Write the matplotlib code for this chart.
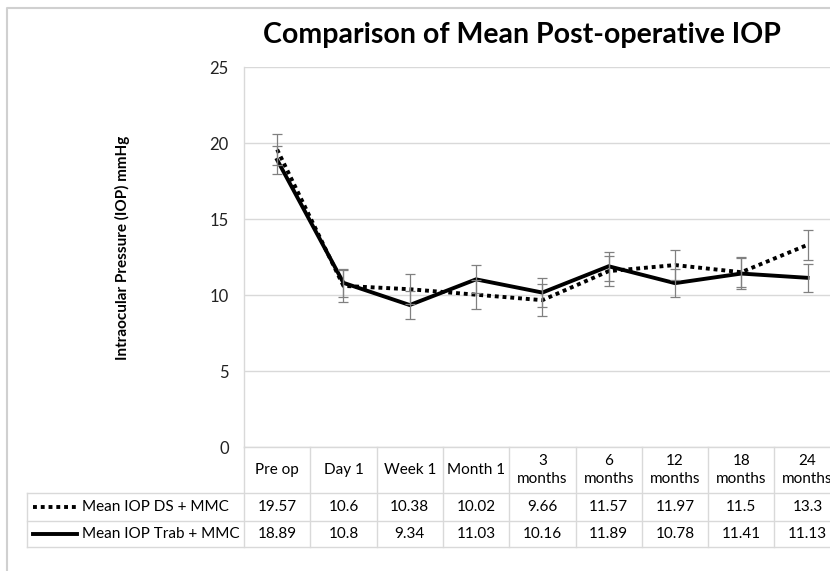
import matplotlib.pyplot as plt
from matplotlib import transforms
from matplotlib.lines import Line2D

plt.rcParams['font.family'] = ['Lato', 'DejaVu Sans']

categories = ['Pre op', 'Day 1', 'Week 1', 'Month 1', '3\nmonths', '6\nmonths',
              '12\nmonths', '18\nmonths', '24\nmonths']
ds_mmc = [19.57, 10.6, 10.38, 10.02, 9.66, 11.57, 11.97, 11.5, 13.3]
trab_mmc = [18.89, 10.8, 9.34, 11.03, 10.16, 11.89, 10.78, 11.41, 11.13]
ds_err = [1.0, 1.05, 0.98, 0.97, 1.04, 1.0, 1.01, 0.98, 0.99]
trab_err = [0.93, 0.9, 0.92, 0.92, 0.94, 0.95, 0.94, 1.0, 0.93]
series_names = ['Mean IOP DS + MMC', 'Mean IOP Trab + MMC']
yticks = [0, 5, 10, 15, 20, 25]

W, H = 830, 571
fig = plt.figure(figsize=(W / 100, H / 100), dpi=100)

# plot area in pixels: left 244, top 67, bottom 447, column width 66.3 (runs past the right edge)
left, top, bottom, colw = 244, 67, 447, 66.3
ax = fig.add_axes([left / W, (H - bottom) / H, colw * len(categories) / W, (bottom - top) / H])

x = list(range(len(categories)))
grey = '#d9d9d9'
ebar = '#808080'

ax.errorbar(x, ds_mmc, yerr=ds_err, fmt='none', ecolor=ebar, elinewidth=0.9, capsize=3.5,
            capthick=0.9, zorder=3)
ax.errorbar(x, trab_mmc, yerr=trab_err, fmt='none', ecolor=ebar, elinewidth=0.9, capsize=3.5,
            capthick=0.9, zorder=3)
ax.plot(x, ds_mmc, color='black', lw=2.8, linestyle=(0, (1, 1)), dash_capstyle='butt',
        zorder=2)
ax.plot(x, trab_mmc, color='black', lw=2.8, solid_joinstyle='miter', zorder=2)

ax.set_xlim(-0.5, len(categories) - 0.5)
ax.set_ylim(0, 25)
ax.set_yticks(yticks)
ax.set_xticks([])
ax.yaxis.grid(True, color=grey, lw=1)
ax.set_axisbelow(True)
ax.tick_params(axis='y', length=0, pad=11, labelsize=12, labelcolor='#222222')
for s in ['top', 'right']:
    ax.spines[s].set_visible(False)
for s in ['left', 'bottom']:
    ax.spines[s].set_color(grey)
    ax.spines[s].set_linewidth(1)

# data table under the axis
tr = transforms.blended_transform_factory(ax.transData, ax.transAxes)
ph = bottom - top
row_y = [0, -(493 - bottom) / ph, -(520.7 - bottom) / ph, -(546.7 - bottom) / ph]
leg_left = (27 - left) / (colw * len(categories))  # in axes x
tca = ax.transAxes

def hline(y, x0_axes):
    ax.add_line(Line2D([x0_axes, 1.2], [y, y], transform=tca, color=grey, lw=1,
                       clip_on=False))

for y in row_y[1:]:
    hline(y, leg_left)
for i in range(len(categories) + 1):
    ax.add_line(Line2D([i - 0.5, i - 0.5], [row_y[0], row_y[3]], transform=tr, color=grey,
                       lw=1, clip_on=False))
ax.add_line(Line2D([leg_left, leg_left], [row_y[1], row_y[3]], transform=tca, color=grey,
                   lw=1, clip_on=False))

fs = 11
for i, lab in enumerate(categories):
    ax.text(i, (row_y[0] + row_y[1]) / 2, lab, transform=tr, ha='center', va='center',
            fontsize=fs, linespacing=1.3)
    ax.text(i, (row_y[1] + row_y[2]) / 2, f'{ds_mmc[i]:g}', transform=tr, ha='center',
            va='center', fontsize=fs)
    ax.text(i, (row_y[2] + row_y[3]) / 2, f'{trab_mmc[i]:g}', transform=tr, ha='center',
            va='center', fontsize=fs)

# legend keys inside the table
pw = colw * len(categories)
k0, k1, kt = (33 - left) / pw, (77 - left) / pw, (82 - left) / pw
for j, (name, style) in enumerate(zip(series_names, [(0, (1, 1)), '-'])):
    yc = (row_y[j + 1] + row_y[j + 2]) / 2
    ax.add_line(Line2D([k0, k1], [yc, yc], transform=tca, color='black', lw=2.8,
                       linestyle=style, dash_capstyle='butt', clip_on=False))
    ax.text(kt, yc, name, transform=tca, ha='left', va='center', fontsize=fs)

# titles
fig.text(522 / W, (H - 35) / H, 'Comparison of Mean Post-operative IOP', ha='center',
         va='center', fontsize=20.5, fontweight='bold')
fig.text(122 / W, (H - 248) / H, 'Intraocular Pressure (IOP) mmHg', ha='center', va='center',
         rotation=90, fontsize=11, fontweight='bold')

# chart area border (clipped at right and bottom)
fig.add_artist(Line2D([7 / W, 7 / W, 1.1], [-0.1, (H - 8) / H, (H - 8) / H],
                      transform=fig.transFigure, color='#d0d0d0', lw=1.5))

fig.savefig('out.png', dpi=100)
